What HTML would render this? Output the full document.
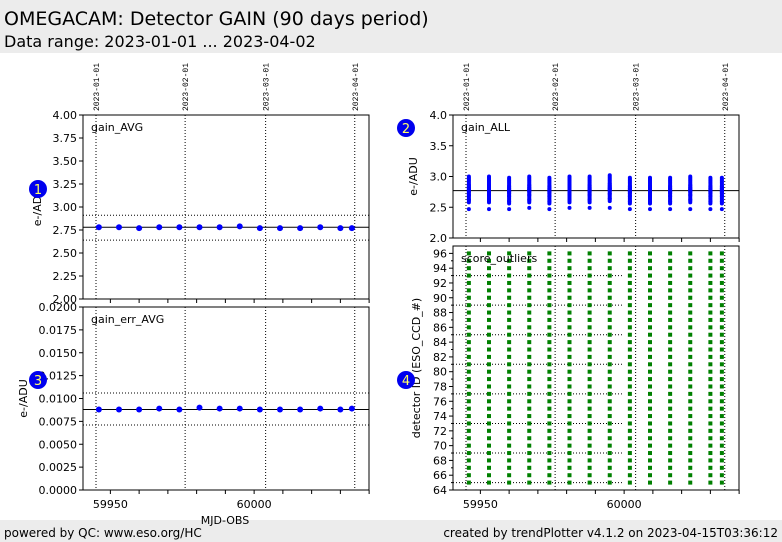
<!DOCTYPE html>
<html><head><meta charset="utf-8"><style>
html,body{margin:0;padding:0;background:#fff;width:782px;height:542px;overflow:hidden;font-family:"DejaVu Sans","Liberation Sans",sans-serif}
svg{display:block}
</style></head><body>
<svg id="c" width="782" height="542" xmlns="http://www.w3.org/2000/svg">
<rect x="0" y="0" width="782" height="53" fill="#ececec"/>
<text x="4" y="25" font-size="19" fill="#000">OMEGACAM: Detector GAIN (90 days period)</text>
<text x="4" y="47" font-size="16" fill="#000">Data range: 2023-01-01 ... 2023-04-02</text>
<rect x="0" y="520" width="782" height="22" fill="#ececec"/>
<text x="4" y="537" font-size="12">powered by QC: www.eso.org/HC</text>
<text x="778" y="537" font-size="12" text-anchor="end">created by trendPlotter v4.1.2 on 2023-04-15T03:36:12</text>
<text x="225" y="524" font-size="11" text-anchor="middle">MJD-OBS</text>
</svg>
<script>
const mjd=[59946,59953,59960,59967,59974,59981,59988,59995,60002,60009,60016,60023,60030,60034];
const gainAvg=[2.78,2.78,2.77,2.78,2.78,2.78,2.78,2.79,2.77,2.77,2.77,2.78,2.77,2.77];
const gainAvgRef=[2.78,2.91,2.64];
const gainErr=[0.0088,0.0088,0.0088,0.0089,0.0088,0.0090,0.0089,0.0089,0.0088,0.0088,0.0088,0.0089,0.0088,0.0089];
const gainErrRef=[0.0088,0.0106,0.0071];
const ccdGain=[2.58,2.60,2.62,2.64,2.66,2.68,2.70,2.72,2.74,2.75,2.76,2.77,2.78,2.79,2.80,2.81,2.82,2.83,2.84,2.86,2.88,2.90,2.92,2.94,2.96,2.98,3.00,2.62,2.70,2.78,2.86];
const dateMax=[0.0,0.0,-0.02,0.0,-0.02,0.0,0.0,0.02,-0.02,-0.02,-0.02,0.0,-0.02,-0.02];
const gainOutlier=[2.47,2.47,2.47,2.49,2.47,2.49,2.49,2.49,2.47,2.47,2.47,2.47,2.47,2.47];
const gainAllMean=2.77;
const ccdIds=[65,66,67,68,69,70,71,72,73,74,75,76,77,78,79,80,81,82,83,84,85,86,87,88,89,90,91,92,93,94,95,96];
const outlierRefs=[65,69,73,77,81,85,89,93];
const dateLines=[59945,59976,60004,60035];
const dateLabels=["2023-01-01","2023-02-01","2023-03-01","2023-04-01"];
const xTickLabels=[59950,60000];

const NS="http://www.w3.org/2000/svg",svg=document.getElementById('c');
function el(t,a,p){const e=document.createElementNS(NS,t);for(const k in a)e.setAttribute(k,a[k]);(p||svg).appendChild(e);return e;}
function txt(s,a,p){const e=el('text',a,p);e.textContent=s;return e;}
function xs(x0){return m=>x0+13+(m-59945)*2.875;}

function panel(cfg){
 const g=el('g',{});
 
 
 const X=xs(cfg.x0),x1=cfg.x0+286;
 const Y=v=>cfg.yb-(v-cfg.ymin)/(cfg.ymax-cfg.ymin)*(cfg.yb-cfg.yt);
 dateLines.forEach((d,i)=>{const l=el('line',{x1:X(d),x2:X(d),y1:cfg.yt,y2:cfg.yb,stroke:'#000','stroke-width':1,'stroke-dasharray':'1,2'},g);
  
  if(cfg.dates){const t=txt(dateLabels[i],{x:0,y:0,'font-size':8,'font-family':'Liberation Mono,monospace',transform:`translate(${X(d)+3},${cfg.yt-4}) rotate(-90)`},g);
   }});
 cfg.ticks.forEach(v=>{const y=Y(v);el('line',{x1:cfg.x0-4,x2:cfg.x0,y1:y,y2:y,stroke:'#000'},g);
  const t=txt(cfg.fmt(v),{x:cfg.x0-6,y:y+4,'font-size':11,'text-anchor':'end'},g);
  });
 (cfg.minor||[]).forEach(v=>{const y=Y(v);el('line',{x1:cfg.x0-2,x2:cfg.x0,y1:y,y2:y,stroke:'#000'},g);});
 for(let m=59950;m<=60040;m+=10){el('line',{x1:X(m),x2:X(m),y1:cfg.yb,y2:cfg.yb+4,stroke:'#000'},g);}
 if(cfg.xlabels)xTickLabels.forEach(m=>{const t=txt(String(m),{x:X(m),y:cfg.yb+18,'font-size':11,'text-anchor':'middle'},g);
  });
 cfg.draw(g,X,Y);
 el('rect',{x:cfg.x0,y:cfg.yt,width:286,height:cfg.yb-cfg.yt,fill:'none',stroke:'#000','stroke-width':1},g);
 const lab=txt(cfg.label,{x:cfg.x0+8,y:cfg.yt+16,'font-size':11},g);
 
 const yl=txt(cfg.ytitle,{x:0,y:0,'font-size':11,'text-anchor':'middle',transform:`translate(${cfg.ytx},${(cfg.yt+cfg.yb)/2}) rotate(-90)`},g);
 
 const b=el('circle',{cx:cfg.bx,cy:cfg.by,r:9,fill:'#0000ee'},g);
 
 txt(cfg.badge,{x:cfg.bx,y:cfg.by+5,'font-size':13,fill:'#ffff66','text-anchor':'middle'},g);
}
function refLines(g,X,Y,ref,x0){ref.forEach((v,i)=>{const l=el('line',{x1:x0,x2:x0+286,y1:Y(v),y2:Y(v),stroke:'#000','stroke-width':1,'stroke-dasharray':i?'1,2':''},g);
 });}
function range(a,b,s){const r=[];for(let v=a;v<=b+1e-9;v+=s)r.push(+v.toFixed(6));return r;}

panel({name:'gain-avg-panel',x0:83,yt:115,yb:299,ymin:2,ymax:4,ticks:range(2,4,0.25),fmt:v=>v.toFixed(2),dates:true,
 label:'gain_AVG',ytitle:'e-/ADU',ytx:41,badge:'1',bx:38,by:189,
 draw:(g,X,Y)=>{refLines(g,X,Y,gainAvgRef,83);mjd.forEach((m,i)=>{const c=el('circle',{cx:X(m),cy:Y(gainAvg[i]),r:3,fill:'#0000ff'},g);
  });}});
panel({name:'gain-err-panel',x0:83,yt:307,yb:490,ymin:0,ymax:0.02,ticks:range(0,0.02,0.0025),fmt:v=>v.toFixed(4),xlabels:true,
 label:'gain_err_AVG',ytitle:'e-/ADU',ytx:27,badge:'3',bx:38,by:380,
 draw:(g,X,Y)=>{refLines(g,X,Y,gainErrRef,83);mjd.forEach((m,i)=>{const c=el('circle',{cx:X(m),cy:Y(gainErr[i]),r:3,fill:'#0000ff'},g);
  });}});
panel({name:'gain-all-panel',x0:453,yt:115,yb:238,ymin:2,ymax:4,ticks:range(2,4,0.5),fmt:v=>v.toFixed(1),dates:true,
 label:'gain_ALL',ytitle:'e-/ADU',ytx:417,badge:'2',bx:406,by:128,
 draw:(g,X,Y)=>{const l=el('line',{x1:453,x2:739,y1:Y(gainAllMean),y2:Y(gainAllMean),stroke:'#000'},g);
  
  mjd.forEach((m,i)=>{ccdGain.forEach(v=>{const c=el('circle',{cx:X(m),cy:Y(v+dateMax[i]),r:2,fill:'#0000ff'},g);
    });
   const o=el('circle',{cx:X(m),cy:Y(gainOutlier[i]),r:2,fill:'#0000ff'},g);
   });}});
panel({name:'score-outliers-panel',x0:453,yt:246,yb:490,ymin:64,ymax:97,ticks:range(64,96,2),minor:range(65,95,2),fmt:v=>String(v),xlabels:true,
 label:'score_outliers',ytitle:'detector ID (ESO_CCD_#)',ytx:420,badge:'4',bx:406,by:380,
 draw:(g,X,Y)=>{outlierRefs.forEach(v=>{const l=el('line',{x1:453,x2:622,y1:Y(v),y2:Y(v),stroke:'#000','stroke-dasharray':'1,2'},g);
   });
  mjd.forEach(m=>{ccdIds.forEach(v=>{const r=el('rect',{x:X(m)-2,y:Y(v)-2,width:4,height:4,fill:'#008000'},g);
   });});}});
</script>
</body></html>
